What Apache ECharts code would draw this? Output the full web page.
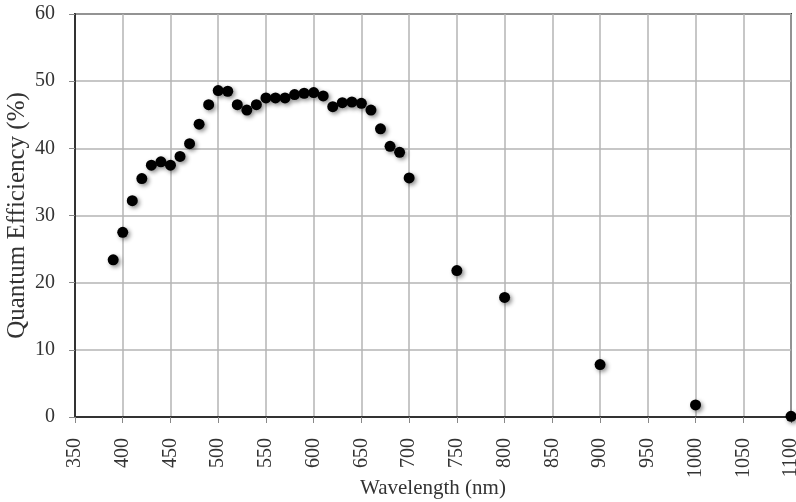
<!DOCTYPE html>
<html>
<head>
<meta charset="utf-8">
<script src="https://cdn.jsdelivr.net/npm/echarts@6/dist/echarts.min.js"></script>
<style>
  html, body { margin: 0; padding: 0; background: #fff; }
  #qe { width: 796px; height: 502px; }
</style>
</head>
<body>
<div id="qe"></div>
<script>
var chart = echarts.init(document.getElementById('qe'));

// wavelength (nm) and quantum efficiency (%)
var wavelength = [390, 400, 410, 420, 430, 440, 450, 460, 470, 480, 490, 500, 510, 520, 530, 540,
	550, 560, 570, 580, 590, 600, 610, 620, 630, 640, 650, 660, 670, 680, 690, 700,
	750, 800, 900, 1000, 1100];
var efficiency = [23.4, 27.5, 32.2, 35.5, 37.5, 38.0, 37.5, 38.8, 40.7, 43.6, 46.5, 48.6, 48.5, 46.5, 45.7, 46.5,
	47.5, 47.5, 47.5, 48.0, 48.2, 48.3, 47.8, 46.2, 46.8, 46.9, 46.7, 45.7, 42.9, 40.3, 39.4, 35.6,
	21.8, 17.8, 7.8, 1.8, 0.1];

var points = wavelength.map(function(w, i) {
	return [w, efficiency[i]];
});

var font = 'Liberation Serif';
var gridLine = { show: true, lineStyle: { color: '#b5b5b5', width: 1.5 } };

option = {
	animation: false,
	backgroundColor: '#fff',
	grid: {
		left: 75,
		right: 5,
		top: 14,
		bottom: 85,
		outerBoundsMode: 'none',
		show: true,
		borderColor: '#333',
		borderWidth: 2
	},
	xAxis: {
		type: 'value',
		min: 350,
		max: 1100,
		interval: 50,
		name: 'Wavelength (nm)',
		nameLocation: 'middle',
		nameGap: 61,
		nameMoveOverlap: false,
		nameTextStyle: { fontFamily: font, fontSize: 21, color: '#333' },
		axisLine: { lineStyle: { color: '#333', width: 2 } },
		axisTick: { show: true, length: 6, lineStyle: { color: '#888' } },
		axisLabel: {
			rotate: 90,
			margin: 21,
			fontFamily: font,
			fontSize: 20,
			color: '#333',
			formatter: function(v) { return String(v); }
		},
		splitLine: gridLine
	},
	yAxis: {
		type: 'value',
		min: 0,
		max: 60,
		interval: 10,
		name: 'Quantum Efficiency (%)',
		nameLocation: 'middle',
		nameGap: 45,
		nameMoveOverlap: false,
		nameTextStyle: { fontFamily: font, fontSize: 25, color: '#333' },
		axisLine: { show: true, lineStyle: { color: '#333', width: 2 } },
		axisTick: { show: true, length: 6, lineStyle: { color: '#888' } },
		axisLabel: { margin: 20, fontFamily: font, fontSize: 20, color: '#333' },
		splitLine: gridLine
	},
	series: [{
		type: 'scatter',
		data: points,
		symbolSize: 11,
		itemStyle: {
			color: '#000',
			opacity: 1,
			shadowColor: 'rgba(0,0,0,0.45)',
			shadowBlur: 4,
			shadowOffsetX: 2,
			shadowOffsetY: 2
		}
	}]
};

chart.setOption(option);
</script>
</body>
</html>
